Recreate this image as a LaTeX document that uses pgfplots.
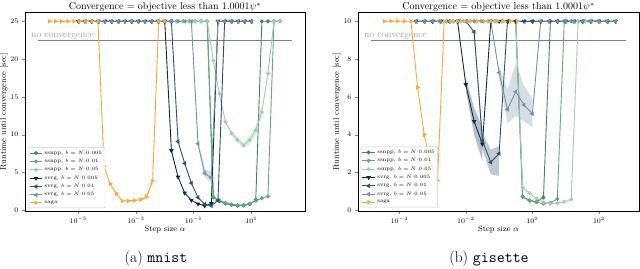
\documentclass[border=0pt]{standalone}
\usepackage{pgfplots}
\pgfplotsset{compat=1.18}
\definecolor{ssA}{HTML}{3A8A5C}
\definecolor{ssB}{HTML}{62A77E}
\definecolor{ssC}{HTML}{A2CDB0}
\definecolor{svA}{HTML}{0C2B4B}
\definecolor{svB}{HTML}{30506F}
\definecolor{svC}{HTML}{7791A9}
\definecolor{sagac}{HTML}{FFAA33}
\pgfplotsset{
  pssA/.style={color=ssA, line width=0.9pt, mark=*, mark size=1.5pt},
  pssB/.style={color=ssB, line width=0.9pt, mark=*, mark size=1.5pt},
  pssC/.style={color=ssC, line width=0.9pt, mark=*, mark size=1.5pt},
  psvA/.style={color=svA, line width=0.9pt, mark=triangle*, mark size=1.8pt, mark options={rotate=180}},
  psvB/.style={color=svB, line width=0.9pt, mark=triangle*, mark size=1.8pt, mark options={rotate=90}},
  psvC/.style={color=svC, line width=0.9pt, mark=triangle*, mark size=1.8pt, mark options={rotate=90}},
  psaga/.style={color=sagac, line width=0.9pt, mark=triangle*, mark size=1.8pt, mark options={rotate=-90}},
  band/.style={fill=#1, fill opacity=0.3, draw=none, forget plot, mark=none},
  myaxis/.style={
    scale only axis, height=199pt,
    tick pos=left, tick align=outside, major tick length=3pt,
    xminorticks=false, yminorticks=false,
    tick label style={font=\fontsize{7}{8}\selectfont},
    axis line style={line width=0.6pt},
    xlabel style={font=\fontsize{8}{9}\selectfont, at={(axis description cs:0.5,-0.092)}, anchor=center},
    ylabel style={font=\fontsize{8}{9}\selectfont, at={(axis description cs:-0.075,0.5)}, anchor=center},
    xlabel={Step size $\alpha$},
    ylabel={Runtime until convergence [sec]},
    legend cell align=left,
    legend style={font=\fontsize{5.5}{6}\selectfont, anchor=south west, draw=black!20, rounded corners=1pt, inner sep=1pt, row sep=-0.6pt, fill=white, fill opacity=0.85, text opacity=1},
  }
}
\begin{document}
\begin{tikzpicture}[x=1pt,y=1pt]
\useasboundingbox (0,0) rectangle (640,268);
% ---------------- MNIST ----------------
\begin{semilogxaxis}[myaxis, at={(25pt,57pt)}, anchor=south west, width=280pt,
  xmin=1.42e-7, xmax=733, ymin=-0.09, ymax=26.23,
  xtick={1e-5,1e-3,1e-1,1e1}, ytick={0,5,10,15,20,25},
  legend image code/.code={\draw[mark repeat=2,mark phase=2] plot coordinates {(0cm,0cm) (0.22cm,0cm) (0.44cm,0cm)};},
  legend style={at={(0.011,0.015)}}]
\addplot[gray, line width=0.9pt, forget plot] coordinates {(4.0e-7,22.5) (259,22.5)};
\node[anchor=base west, text=black!35, font=\fontsize{9.5}{10}\selectfont, inner sep=0pt] at (axis cs:2.3e-7,22.88) {no convergence};
% ssnpp
\addplot[pssA] coordinates {(0.01,25)(0.01624,25)(0.02637,25)(0.04281,25)(0.06952,25)(0.1129,25)(0.1833,25)(0.2976,25)(0.4833,1.7)(0.7848,1.2)(1.274,0.9)(2.069,0.7)(3.360,0.6)(5.456,0.62)(8.859,0.8)(14.38,1.4)(23.36,25)(37.93,25)(61.58,25)(100,25)};
\addlegendentry{ssnpp, $b=N{\cdot}0.005$}
\addplot[pssB] coordinates {(0.01,25)(0.01624,25)(0.02637,25)(0.04281,25)(0.06952,25)(0.1129,25)(0.1833,25)(0.2976,25)(0.4833,1.8)(0.7848,1.3)(1.274,1.0)(2.069,0.8)(3.360,0.7)(5.456,0.72)(8.859,0.9)(14.38,1.25)(23.36,1.6)(37.93,1.85)(61.58,25)(100,25)};
\addlegendentry{ssnpp, $b=N{\cdot}0.01$}
\addplot[band=ssC] coordinates {(2.069,10.6)(3.360,9.7)(5.456,9.0)(8.859,9.9)(14.38,11.3)(23.36,13.7)(23.36,12.3)(14.38,9.9)(8.859,8.7)(5.456,8.2)(3.360,8.9)(2.069,9.8)} -- cycle;
\addplot[pssC] coordinates {(0.01,25)(0.01624,25)(0.02637,25)(0.04281,25)(0.06952,25)(0.1129,25)(0.1833,25)(0.2976,25)(0.4833,19.8)(0.7848,15.4)(1.274,11.7)(2.069,10.2)(3.360,9.3)(5.456,8.6)(8.859,9.3)(14.38,10.6)(23.36,13.0)(37.93,18.1)(61.58,25)(100,25)};
\addlegendentry{ssnpp, $b=N{\cdot}0.05$}
% svrg
\addplot[psvA] coordinates {(1e-5,25)(1.701e-5,25)(2.894e-5,25)(4.924e-5,25)(8.377e-5,25)(1.425e-4,25)(2.424e-4,25)(4.125e-4,25)(7.017e-4,25)(1.194e-3,25)(2.031e-3,25)(3.455e-3,25)(5.878e-3,25)(1e-2,25)(1.701e-2,7.9)(2.894e-2,4.4)(4.924e-2,2.3)(8.377e-2,1.35)(0.1425,0.85)(0.2424,0.6)(0.4125,0.9)(0.7017,25)(1.194,25)(2.031,25)(3.455,25)(5.878,25)(10,25)};
\addlegendentry{svrg, $b=N{\cdot}0.005$}
\addplot[psvB] coordinates {(1e-5,25)(1.701e-5,25)(2.894e-5,25)(4.924e-5,25)(8.377e-5,25)(1.425e-4,25)(2.424e-4,25)(4.125e-4,25)(7.017e-4,25)(1.194e-3,25)(2.031e-3,25)(3.455e-3,25)(5.878e-3,25)(1e-2,25)(1.701e-2,25)(2.894e-2,9.1)(4.924e-2,6.2)(8.377e-2,3.6)(0.1425,1.7)(0.2424,0.8)(0.4125,0.6)(0.7017,1.3)(1.194,25)(2.031,25)(3.455,25)(5.878,25)(10,25)};
\addlegendentry{svrg, $b=N{\cdot}0.01$}
\addplot[band=svC] coordinates {(0.1425,9.1)(0.2424,5.5)(0.4125,5.1)(0.4125,3.6)(0.2424,4.4)(0.1425,8.5)} -- cycle;
\addplot[psvC] coordinates {(1e-5,25)(1.701e-5,25)(2.894e-5,25)(4.924e-5,25)(8.377e-5,25)(1.425e-4,25)(2.424e-4,25)(4.125e-4,25)(7.017e-4,25)(1.194e-3,25)(2.031e-3,25)(3.455e-3,25)(5.878e-3,25)(1e-2,25)(1.701e-2,25)(2.894e-2,25)(4.924e-2,25)(8.377e-2,25)(0.1425,8.8)(0.2424,4.9)(0.4125,4.3)(0.7017,25)(1.194,25)(2.031,25)(3.455,25)(5.878,25)(10,25)};
\addlegendentry{svrg, $b=N{\cdot}0.05$}
% saga
\addplot[band=sagac] coordinates {(1.438e-3,1.5)(2.336e-3,2.0)(3.793e-3,4.4)(3.793e-3,3.4)(2.336e-3,1.6)(1.438e-3,1.3)} -- cycle;
\addplot[psaga] coordinates {(1e-6,25)(1.624e-6,25)(2.637e-6,25)(4.281e-6,25)(6.952e-6,25)(1.129e-5,25)(1.833e-5,25)(2.976e-5,25)(4.833e-5,25)(7.848e-5,5.8)(1.274e-4,3.5)(2.069e-4,2.2)(3.360e-4,1.23)(5.456e-4,1.25)(8.859e-4,1.3)(1.438e-3,1.4)(2.336e-3,1.8)(3.793e-3,3.9)(6.158e-3,25)(1e-2,25)};
\addlegendentry{saga}
\end{semilogxaxis}
% ---------------- GISETTE ----------------
\begin{semilogxaxis}[myaxis, at={(358pt,57pt)}, anchor=south west, width=281pt,
  xmin=5.75e-6, xmax=1600, ymin=-0.04, ymax=10.49,
  xtick={1e-4,1e-2,1e0,1e2}, ytick={0,2,4,6,8,10},
  legend image code/.code={\draw[mark repeat=2,mark phase=2] plot coordinates {(0cm,0cm) (0.22cm,0cm) (0.44cm,0cm)};},
  legend style={at={(0.0096,0.0186)}}]
\addplot[gray, line width=0.9pt, forget plot] coordinates {(1.42e-5,9) (637,9)};
\node[anchor=base west, text=black!35, font=\fontsize{9.5}{10}\selectfont, inner sep=0pt] at (axis cs:8.73e-6,9.15) {no convergence};
% ssnpp
\addplot[pssA] coordinates {(1e-3,10)(1.616e-3,10)(2.610e-3,10)(4.217e-3,10)(6.813e-3,10)(1.101e-2,10)(1.778e-2,10)(2.873e-2,10)(4.642e-2,10)(7.499e-2,10)(0.1212,10)(0.1957,10)(0.3162,10)(0.5109,0.72)(0.8254,0.52)(1.334,0.45)(2.154,0.68)(3.481,10)(5.623,10)(9.085,10)(14.68,10)(23.71,10)(38.31,10)(61.90,10)(100,10)};
\addlegendentry{ssnpp, $b=N{\cdot}0.005$}
\addplot[pssB] coordinates {(1e-3,10)(1.616e-3,10)(2.610e-3,10)(4.217e-3,10)(6.813e-3,10)(1.101e-2,10)(1.778e-2,10)(2.873e-2,10)(4.642e-2,10)(7.499e-2,10)(0.1212,10)(0.1957,10)(0.3162,10)(0.5109,0.7)(0.8254,0.5)(1.334,0.42)(2.154,0.35)(3.481,0.4)(5.623,0.6)(9.085,10)(14.68,10)(23.71,10)(38.31,10)(61.90,10)(100,10)};
\addlegendentry{ssnpp, $b=N{\cdot}0.01$}
\addplot[pssC] coordinates {(1e-3,10)(1.616e-3,10)(2.610e-3,10)(4.217e-3,10)(6.813e-3,10)(1.101e-2,10)(1.778e-2,10)(2.873e-2,10)(4.642e-2,10)(7.499e-2,10)(0.1212,10)(0.1957,10)(0.3162,10)(0.5109,1.2)(0.8254,0.9)(1.334,0.62)(2.154,0.42)(3.481,0.35)(5.623,0.38)(9.085,0.45)(14.68,0.58)(23.71,10)(38.31,10)(61.90,10)(100,10)};
\addlegendentry{ssnpp, $b=N{\cdot}0.05$}
% svrg
\addplot[band=svA] coordinates {(1e-2,7.0)(1.778e-2,5.4)(3.162e-2,4.4)(3.162e-2,2.6)(1.778e-2,4.0)(1e-2,6.3)} -- cycle;
\addplot[psvA] coordinates {(3.162e-4,10)(5.623e-4,10)(1e-3,10)(1.778e-3,10)(3.162e-3,10)(5.623e-3,10)(1e-2,6.65)(1.778e-2,4.7)(3.162e-2,3.5)(5.623e-2,10)(0.1,10)(0.1778,10)(0.3162,10)(0.5623,10)(1,10)(1.778,10)(3.162,10)(5.623,10)(10,10)(17.78,10)(31.62,10)(56.23,10)(100,10)(177.8,10)(316.2,10)};
\addlegendentry{svrg, $b=N{\cdot}0.005$}
\addplot[band=svB] coordinates {(1.778e-2,9.6)(3.162e-2,4.1)(5.623e-2,3.2)(0.1,3.4)(0.1,1.8)(5.623e-2,1.9)(3.162e-2,3.2)(1.778e-2,9.2)} -- cycle;
\addplot[psvB] coordinates {(3.162e-4,10)(5.623e-4,10)(1e-3,10)(1.778e-3,10)(3.162e-3,10)(5.623e-3,10)(1e-2,10)(1.778e-2,9.43)(3.162e-2,3.67)(5.623e-2,2.54)(0.1,3.0)(0.1778,10)(0.3162,10)(0.5623,10)(1,10)(1.778,10)(3.162,10)(5.623,10)(10,10)(17.78,10)(31.62,10)(56.23,10)(100,10)(177.8,10)(316.2,10)};
\addlegendentry{svrg, $b=N{\cdot}0.01$}
\addplot[band=svC] coordinates {(0.1,7.6)(0.1778,6.4)(0.3162,7.8)(0.5623,6.6)(1,5.9)(1,4.4)(0.5623,4.7)(0.3162,5.0)(0.1778,4.6)(0.1,6.9)} -- cycle;
\addplot[psvC] coordinates {(3.162e-4,10)(5.623e-4,10)(1e-3,10)(1.778e-3,10)(3.162e-3,10)(5.623e-3,10)(1e-2,10)(1.778e-2,10)(3.162e-2,10)(5.623e-2,10)(0.1,7.28)(0.1778,5.34)(0.3162,6.27)(0.5623,5.57)(1,5.1)(1.778,10)(3.162,10)(5.623,10)(10,10)(17.78,10)(31.62,10)(56.23,10)(100,10)(177.8,10)(316.2,10)};
\addlegendentry{svrg, $b=N{\cdot}0.05$}
% saga
\addplot[psaga] coordinates {(3.548e-5,10)(5.623e-5,10)(8.913e-5,10)(1.413e-4,10)(2.239e-4,10)(3.548e-4,6.5)(5.623e-4,4.0)(8.913e-4,2.45)(1.413e-3,1.57)(2.239e-3,10)(3.548e-3,10)(5.623e-3,10)(8.913e-3,10)(1.413e-2,10)(2.239e-2,10)(3.548e-2,10)(5.623e-2,10)(8.913e-2,10)(0.1413,10)(0.2239,10)(0.3548,10)};
\addlegendentry{saga}
\end{semilogxaxis}
\node[font=\fontsize{10}{12}\selectfont, anchor=base] at (165,258.3) {Convergence = objective less than $1.0001\psi^*$};
\node[font=\fontsize{10}{12}\selectfont, anchor=base] at (498.5,258.3) {Convergence = objective less than $1.0001\psi^*$};
\node[font=\fontsize{15.5}{17}\selectfont, anchor=base] at (156,5.5) {(a) \texttt{mnist}};
\node[font=\fontsize{15.5}{17}\selectfont, anchor=base] at (489,5.5) {(b) \texttt{gisette}};
\end{tikzpicture}
\end{document}
